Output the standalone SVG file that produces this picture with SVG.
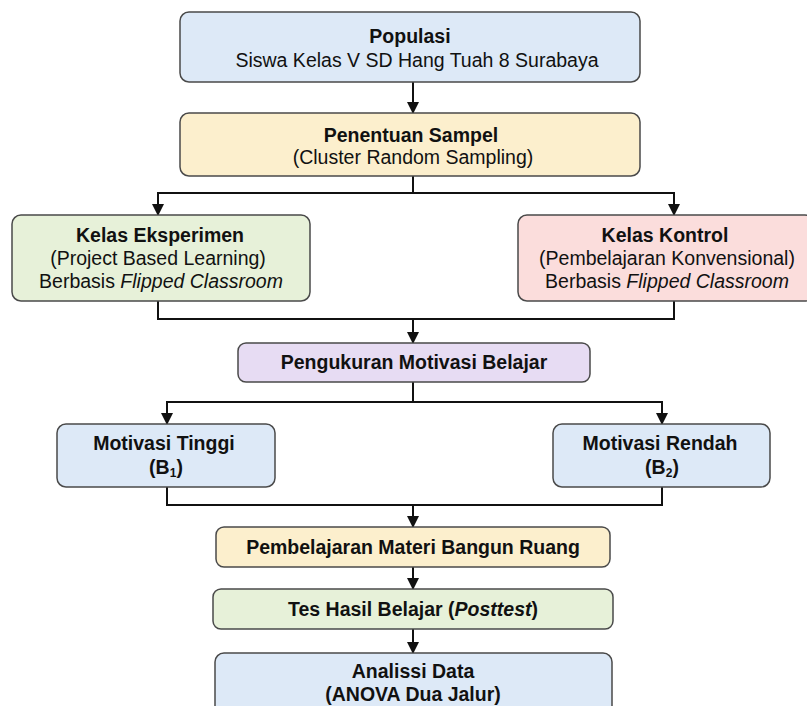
<svg xmlns="http://www.w3.org/2000/svg" width="807" height="706" viewBox="0 0 807 706">
<defs>
<marker id="ah" markerWidth="13" markerHeight="13" refX="11" refY="6" orient="auto-start-reverse" markerUnits="userSpaceOnUse" viewBox="0 0 13 13">
<path d="M0,0 L12,6 L0,12 Z" fill="#111"/>
</marker>
</defs>
<style>
.box{stroke:#4a4a4a;stroke-width:1.5}
.blue{fill:#dde9f7}
.yellow{fill:#fcefcd}
.green{fill:#e7f1d9}
.pink{fill:#fbdddc}
.purple{fill:#e7dcf3}
text{font-family:"Liberation Sans",Arial,sans-serif;font-size:19.5px;fill:#111;text-anchor:middle}
.b{font-weight:bold}
.c line,.c path{stroke:#111;stroke-width:2;fill:none}
</style>
<rect width="807" height="706" fill="#ffffff"/>
<g class="c" id="connectors">
<line x1="413" y1="82" x2="413" y2="113" marker-end="url(#ah)"/>
<line x1="413" y1="176" x2="413" y2="193"/>
<path d="M158,215 L158,193 L674,193 L674,215" marker-start="url(#ah)" marker-end="url(#ah)"/>
<path d="M158,301 L158,319 L674,319 L674,301"/>
<line x1="413" y1="319" x2="413" y2="343" marker-end="url(#ah)"/>
<line x1="413" y1="382" x2="413" y2="402"/>
<path d="M167,424 L167,402 L662,402 L662,424" marker-start="url(#ah)" marker-end="url(#ah)"/>
<path d="M167,487 L167,505 L662,505 L662,487"/>
<line x1="413" y1="505" x2="413" y2="527" marker-end="url(#ah)"/>
<line x1="413" y1="567" x2="413" y2="589" marker-end="url(#ah)"/>
<line x1="413" y1="629" x2="413" y2="653" marker-end="url(#ah)"/>
</g>
<g id="populasi">
<rect class="box blue" x="180" y="12" width="460" height="70" rx="9"/>
<text class="b" x="410" y="43">Populasi</text>
<text x="417" y="67">Siswa Kelas V SD Hang Tuah 8 Surabaya</text>
</g>
<g id="sampel">
<rect class="box yellow" x="180" y="113" width="460" height="63" rx="9"/>
<text class="b" x="411" y="142">Penentuan Sampel</text>
<text x="413" y="164">(Cluster Random Sampling)</text>
</g>
<g id="eksperimen">
<rect class="box green" x="12" y="215" width="298" height="86" rx="9"/>
<text class="b" x="160" y="242">Kelas Eksperimen</text>
<text x="158" y="265">(Project Based Learning)</text>
<text x="161" y="288">Berbasis <tspan font-style="italic">Flipped Classroom</tspan></text>
</g>
<g id="kontrol">
<rect class="box pink" x="518" y="215" width="296" height="86" rx="9"/>
<text class="b" x="665" y="242">Kelas Kontrol</text>
<text x="667" y="265">(Pembelajaran Konvensional)</text>
<text x="667" y="288">Berbasis <tspan font-style="italic">Flipped Classroom</tspan></text>
</g>
<g id="pengukuran">
<rect class="box purple" x="238" y="343" width="352" height="39" rx="8"/>
<text class="b" x="414" y="369">Pengukuran Motivasi Belajar</text>
</g>
<g id="tinggi">
<rect class="box blue" x="57" y="424" width="218" height="63" rx="9"/>
<text class="b" x="164" y="450">Motivasi Tinggi</text>
<text class="b" x="166" y="474">(B<tspan font-size="12" dy="3">1</tspan><tspan dy="-3">)</tspan></text>
</g>
<g id="rendah">
<rect class="box blue" x="553" y="424" width="217" height="63" rx="9"/>
<text class="b" x="660" y="450">Motivasi Rendah</text>
<text class="b" x="662" y="474">(B<tspan font-size="12" dy="3">2</tspan><tspan dy="-3">)</tspan></text>
</g>
<g id="pembelajaran">
<rect class="box yellow" x="216" y="527" width="394" height="40" rx="8"/>
<text class="b" x="413" y="554">Pembelajaran Materi Bangun Ruang</text>
</g>
<g id="tes">
<rect class="box green" x="213" y="589" width="400" height="40" rx="8"/>
<text class="b" x="413" y="616">Tes Hasil Belajar (<tspan font-style="italic">Posttest</tspan>)</text>
</g>
<g id="analisis">
<rect class="box blue" x="215" y="653" width="397" height="70" rx="9"/>
<text class="b" x="413" y="678">Analissi Data</text>
<text class="b" x="413" y="701">(ANOVA Dua Jalur)</text>
</g>
</svg>
